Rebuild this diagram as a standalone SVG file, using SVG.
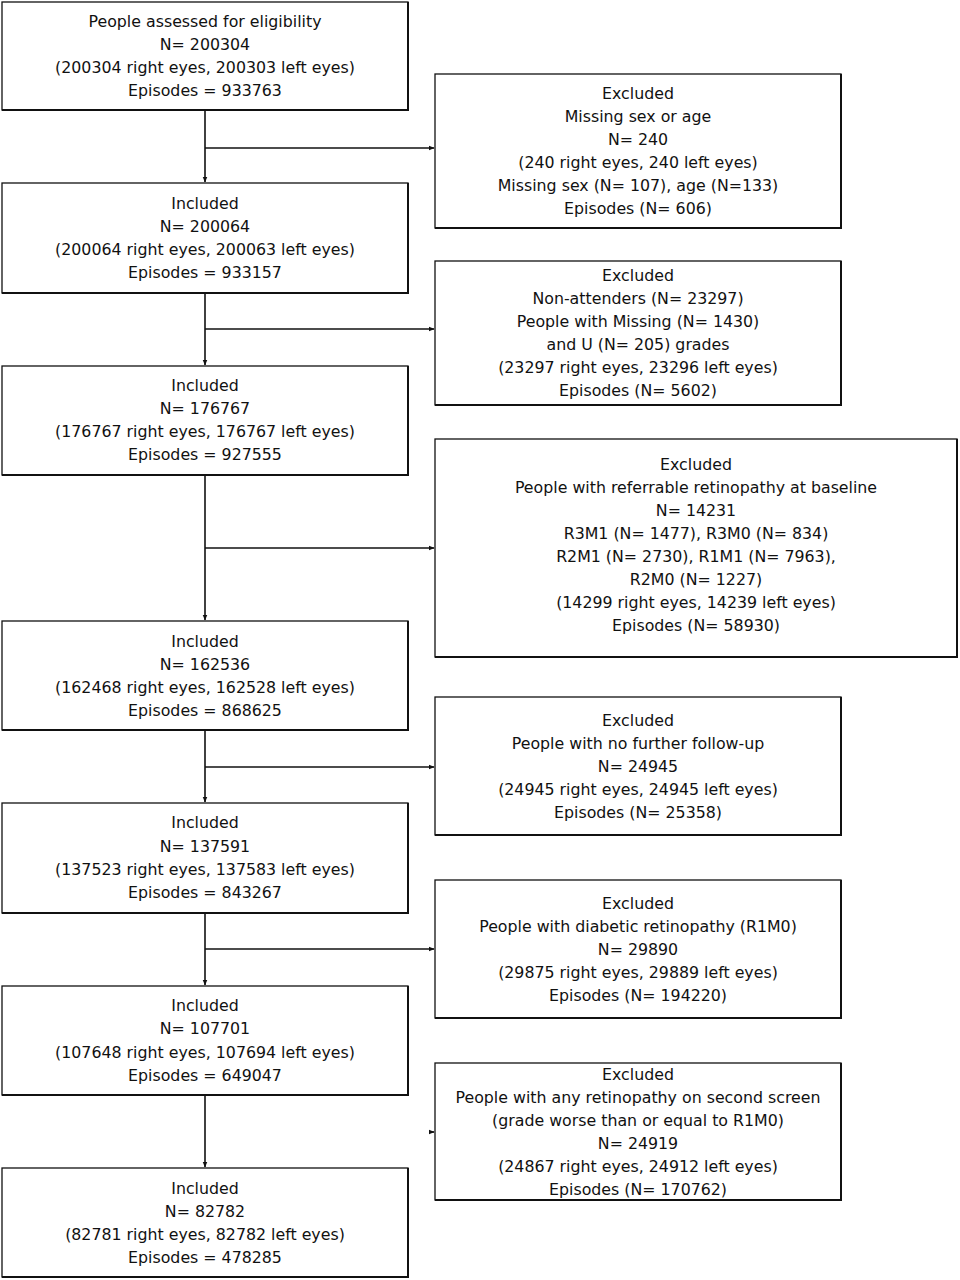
<svg xmlns="http://www.w3.org/2000/svg" width="960" height="1280" viewBox="0 0 960 1280">
<style>
.box{fill:#fff;stroke:#111;stroke-width:1.3}
.sh{fill:none;stroke:#111;stroke-width:2}
.t{font-family:"DejaVu Sans",sans-serif;font-size:15.8px;fill:#111;text-anchor:middle}
.c{fill:none;stroke:#111;stroke-width:1.6}
</style>
<defs>
<marker id="ah" viewBox="0 0 10 10" refX="9" refY="5" markerWidth="6" markerHeight="6" markerUnits="userSpaceOnUse" orient="auto">
<path d="M0,1 L10,5 L0,9 Z" fill="#111"/>
</marker>
</defs>
<rect width="960" height="1280" fill="#fff"/>
<g id="connectors">
<line class="c" x1="205" y1="110" x2="205" y2="182" marker-end="url(#ah)"/>
<line class="c" x1="205" y1="148" x2="434" y2="148" marker-end="url(#ah)"/>
<line class="c" x1="205" y1="293" x2="205" y2="365" marker-end="url(#ah)"/>
<line class="c" x1="205" y1="329" x2="434" y2="329" marker-end="url(#ah)"/>
<line class="c" x1="205" y1="475" x2="205" y2="620" marker-end="url(#ah)"/>
<line class="c" x1="205" y1="548" x2="434" y2="548" marker-end="url(#ah)"/>
<line class="c" x1="205" y1="730" x2="205" y2="802" marker-end="url(#ah)"/>
<line class="c" x1="205" y1="767" x2="434" y2="767" marker-end="url(#ah)"/>
<line class="c" x1="205" y1="913" x2="205" y2="985" marker-end="url(#ah)"/>
<line class="c" x1="205" y1="949" x2="434" y2="949" marker-end="url(#ah)"/>
<line class="c" x1="205" y1="1095" x2="205" y2="1167" marker-end="url(#ah)"/>
<line class="c" x1="429" y1="1132" x2="434" y2="1132" marker-end="url(#ah)"/>
</g>
<g id="n1">
<rect class="box" x="2" y="2" width="406" height="108"/>
<polyline class="sh" points="408,2 408,110 2,110"/>
<text class="t" x="205" y="27">People assessed for eligibility</text>
<text class="t" x="205" y="50">N= 200304</text>
<text class="t" x="205" y="73">(200304 right eyes, 200303 left eyes)</text>
<text class="t" x="205" y="96">Episodes = 933763</text>
</g>
<g id="n2">
<rect class="box" x="2" y="183" width="406" height="110"/>
<polyline class="sh" points="408,183 408,293 2,293"/>
<text class="t" x="205" y="209">Included</text>
<text class="t" x="205" y="232">N= 200064</text>
<text class="t" x="205" y="255">(200064 right eyes, 200063 left eyes)</text>
<text class="t" x="205" y="278">Episodes = 933157</text>
</g>
<g id="n3">
<rect class="box" x="2" y="366" width="406" height="109"/>
<polyline class="sh" points="408,366 408,475 2,475"/>
<text class="t" x="205" y="391">Included</text>
<text class="t" x="205" y="414">N= 176767</text>
<text class="t" x="205" y="437">(176767 right eyes, 176767 left eyes)</text>
<text class="t" x="205" y="460">Episodes = 927555</text>
</g>
<g id="n4">
<rect class="box" x="2" y="621" width="406" height="109"/>
<polyline class="sh" points="408,621 408,730 2,730"/>
<text class="t" x="205" y="647">Included</text>
<text class="t" x="205" y="670">N= 162536</text>
<text class="t" x="205" y="693">(162468 right eyes, 162528 left eyes)</text>
<text class="t" x="205" y="716">Episodes = 868625</text>
</g>
<g id="n5">
<rect class="box" x="2" y="803" width="406" height="110"/>
<polyline class="sh" points="408,803 408,913 2,913"/>
<text class="t" x="205" y="828">Included</text>
<text class="t" x="205" y="852">N= 137591</text>
<text class="t" x="205" y="875">(137523 right eyes, 137583 left eyes)</text>
<text class="t" x="205" y="898">Episodes = 843267</text>
</g>
<g id="n6">
<rect class="box" x="2" y="986" width="406" height="109"/>
<polyline class="sh" points="408,986 408,1095 2,1095"/>
<text class="t" x="205" y="1011">Included</text>
<text class="t" x="205" y="1034">N= 107701</text>
<text class="t" x="205" y="1058">(107648 right eyes, 107694 left eyes)</text>
<text class="t" x="205" y="1081">Episodes = 649047</text>
</g>
<g id="n7">
<rect class="box" x="2" y="1168" width="406" height="109"/>
<polyline class="sh" points="408,1168 408,1277 2,1277"/>
<text class="t" x="205" y="1194">Included</text>
<text class="t" x="205" y="1217">N= 82782</text>
<text class="t" x="205" y="1240">(82781 right eyes, 82782 left eyes)</text>
<text class="t" x="205" y="1263">Episodes = 478285</text>
</g>
<g id="e1">
<rect class="box" x="435" y="74" width="406" height="154"/>
<polyline class="sh" points="841,74 841,228 435,228"/>
<text class="t" x="638" y="99">Excluded</text>
<text class="t" x="638" y="122">Missing sex or age</text>
<text class="t" x="638" y="145">N= 240</text>
<text class="t" x="638" y="168">(240 right eyes, 240 left eyes)</text>
<text class="t" x="638" y="191">Missing sex (N= 107), age (N=133)</text>
<text class="t" x="638" y="214">Episodes (N= 606)</text>
</g>
<g id="e2">
<rect class="box" x="435" y="261" width="406" height="144"/>
<polyline class="sh" points="841,261 841,405 435,405"/>
<text class="t" x="638" y="281">Excluded</text>
<text class="t" x="638" y="304">Non-attenders (N= 23297)</text>
<text class="t" x="638" y="327">People with Missing (N= 1430)</text>
<text class="t" x="638" y="350">and U (N= 205) grades</text>
<text class="t" x="638" y="373">(23297 right eyes, 23296 left eyes)</text>
<text class="t" x="638" y="396">Episodes (N= 5602)</text>
</g>
<g id="e3">
<rect class="box" x="435" y="439" width="522" height="218"/>
<polyline class="sh" points="957,439 957,657 435,657"/>
<text class="t" x="696" y="470">Excluded</text>
<text class="t" x="696" y="493">People with referrable retinopathy at baseline</text>
<text class="t" x="696" y="516">N= 14231</text>
<text class="t" x="696" y="539">R3M1 (N= 1477), R3M0 (N= 834)</text>
<text class="t" x="696" y="562">R2M1 (N= 2730), R1M1 (N= 7963),</text>
<text class="t" x="696" y="585">R2M0 (N= 1227)</text>
<text class="t" x="696" y="608">(14299 right eyes, 14239 left eyes)</text>
<text class="t" x="696" y="631">Episodes (N= 58930)</text>
</g>
<g id="e4">
<rect class="box" x="435" y="697" width="406" height="138"/>
<polyline class="sh" points="841,697 841,835 435,835"/>
<text class="t" x="638" y="726">Excluded</text>
<text class="t" x="638" y="749">People with no further follow-up</text>
<text class="t" x="638" y="772">N= 24945</text>
<text class="t" x="638" y="795">(24945 right eyes, 24945 left eyes)</text>
<text class="t" x="638" y="818">Episodes (N= 25358)</text>
</g>
<g id="e5">
<rect class="box" x="435" y="880" width="406" height="138"/>
<polyline class="sh" points="841,880 841,1018 435,1018"/>
<text class="t" x="638" y="909">Excluded</text>
<text class="t" x="638" y="932">People with diabetic retinopathy (R1M0)</text>
<text class="t" x="638" y="955">N= 29890</text>
<text class="t" x="638" y="978">(29875 right eyes, 29889 left eyes)</text>
<text class="t" x="638" y="1001">Episodes (N= 194220)</text>
</g>
<g id="e6">
<rect class="box" x="435" y="1063" width="406" height="137"/>
<polyline class="sh" points="841,1063 841,1200 435,1200"/>
<text class="t" x="638" y="1080">Excluded</text>
<text class="t" x="638" y="1103">People with any retinopathy on second screen</text>
<text class="t" x="638" y="1126">(grade worse than or equal to R1M0)</text>
<text class="t" x="638" y="1149">N= 24919</text>
<text class="t" x="638" y="1172">(24867 right eyes, 24912 left eyes)</text>
<text class="t" x="638" y="1195">Episodes (N= 170762)</text>
</g>
</svg>
